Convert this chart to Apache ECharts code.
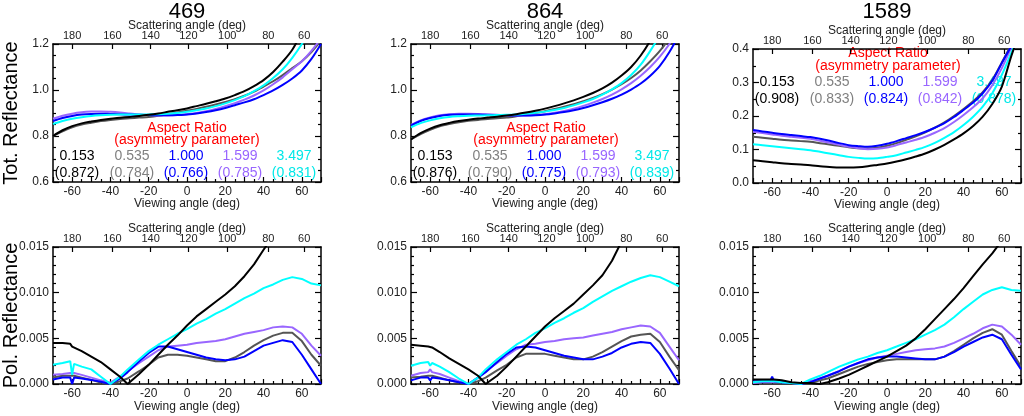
<!DOCTYPE html>
<html>
<head>
<meta charset="utf-8">
<script src="https://cdn.jsdelivr.net/npm/echarts@6/dist/echarts.min.js"></script>
<style>
  html, body { margin: 0; padding: 0; background: #fff; }
  #chart { width: 1024px; height: 416px; }
</style>
</head>
<body>
<div id="chart"></div>
<script>
// viewing angle samples (deg)
const viewTot = [-70,-65,-60,-55,-50,-45,-40,-35,-30,-25,-20,-15,-10,-5,0,5,10,15,20,25,30,35,40,45,50,55,60,65,70];
const viewPol = [-70,-65,-61,-60,-59,-55,-50,-45,-40,-35,-31,-25,-20,-15,-10,-5,0,5,10,15,20,25,30,35,40,45,50,55,60,65,70];

// top axis: scattering angle labels and where they sit on the viewing axis
const scatLabels = [180, 160, 140, 120, 100, 80, 60];
const scatPos = [-60, -39, -19, 0.7, 21, 42.5, 61.2];

const bands = ['469', '864', '1589'];
const aspectRatios = ['0.153', '0.535', '1.000', '1.599', '3.497'];
const asym469 = [0.872, 0.784, 0.766, 0.785, 0.831];
const asym864 = [0.876, 0.790, 0.775, 0.793, 0.839];
const asym1589 = [0.908, 0.833, 0.824, 0.842, 0.878];

// total reflectance, order: 0.153 (k), 0.535 (g), 1.000 (b), 1.599 (p), 3.497 (c)
const t469k = [0.800,0.825,0.843,0.855,0.863,0.870,0.875,0.879,0.883,0.887,0.892,0.898,0.905,0.912,0.920,0.930,0.940,0.951,0.963,0.978,0.995,1.017,1.043,1.078,1.123,1.175,1.250,1.330,1.420];
const t469g = [0.800,0.820,0.838,0.850,0.858,0.865,0.870,0.874,0.877,0.880,0.883,0.888,0.895,0.902,0.910,0.918,0.927,0.937,0.948,0.960,0.975,0.993,1.015,1.038,1.065,1.095,1.125,1.165,1.215];
const t469b = [0.865,0.878,0.887,0.893,0.896,0.897,0.896,0.895,0.893,0.892,0.891,0.890,0.890,0.891,0.894,0.898,0.904,0.912,0.922,0.934,0.946,0.960,0.978,0.998,1.022,1.050,1.085,1.135,1.200];
const t469p = [0.875,0.888,0.897,0.903,0.906,0.907,0.905,0.902,0.898,0.894,0.891,0.889,0.889,0.891,0.895,0.900,0.908,0.918,0.930,0.943,0.958,0.976,0.998,1.025,1.055,1.090,1.125,1.170,1.225];
const t469c = [0.852,0.865,0.875,0.882,0.887,0.890,0.892,0.893,0.893,0.893,0.894,0.895,0.897,0.900,0.905,0.912,0.920,0.930,0.942,0.956,0.973,0.995,1.020,1.052,1.090,1.140,1.200,1.270,1.350];

const t864k = [0.785,0.812,0.832,0.847,0.857,0.865,0.871,0.876,0.880,0.884,0.889,0.895,0.902,0.910,0.919,0.930,0.942,0.955,0.970,0.987,1.007,1.032,1.063,1.100,1.150,1.215,1.300,1.400,1.500];
const t864g = [0.785,0.808,0.827,0.842,0.852,0.860,0.866,0.870,0.874,0.877,0.880,0.886,0.893,0.900,0.908,0.917,0.927,0.938,0.951,0.965,0.982,1.002,1.025,1.052,1.085,1.125,1.170,1.225,1.290];
const t864b = [0.845,0.865,0.878,0.887,0.892,0.894,0.894,0.893,0.892,0.891,0.890,0.889,0.889,0.890,0.893,0.898,0.904,0.912,0.922,0.934,0.947,0.962,0.980,1.002,1.028,1.062,1.105,1.165,1.240];
const t864p = [0.848,0.868,0.881,0.890,0.895,0.897,0.897,0.896,0.894,0.892,0.890,0.889,0.889,0.891,0.895,0.901,0.909,0.919,0.931,0.945,0.961,0.980,1.003,1.030,1.062,1.100,1.145,1.200,1.265];
const t864c = [0.838,0.856,0.868,0.877,0.883,0.886,0.888,0.889,0.890,0.891,0.892,0.894,0.897,0.901,0.906,0.913,0.922,0.933,0.946,0.961,0.980,1.003,1.030,1.065,1.110,1.170,1.240,1.320,1.410];

const t1589k = [0.068,0.065,0.062,0.059,0.057,0.055,0.053,0.050,0.048,0.046,0.046,0.047,0.050,0.054,0.058,0.064,0.071,0.079,0.088,0.100,0.114,0.130,0.148,0.170,0.198,0.236,0.288,0.380,0.460];
const t1589g = [0.138,0.135,0.132,0.129,0.127,0.125,0.123,0.119,0.115,0.111,0.107,0.104,0.103,0.105,0.111,0.119,0.129,0.139,0.151,0.165,0.181,0.200,0.221,0.244,0.271,0.308,0.360,0.415,0.480];
const t1589b = [0.158,0.154,0.150,0.146,0.143,0.140,0.137,0.132,0.126,0.119,0.113,0.110,0.108,0.111,0.117,0.125,0.134,0.143,0.153,0.165,0.179,0.197,0.218,0.240,0.268,0.305,0.358,0.410,0.470];
const t1589p = [0.153,0.149,0.145,0.141,0.138,0.135,0.132,0.126,0.120,0.114,0.108,0.104,0.101,0.102,0.106,0.113,0.121,0.129,0.138,0.150,0.164,0.182,0.203,0.226,0.253,0.292,0.343,0.405,0.470];
const t1589c = [0.116,0.113,0.110,0.107,0.104,0.101,0.098,0.093,0.088,0.083,0.078,0.075,0.073,0.074,0.078,0.083,0.091,0.099,0.108,0.120,0.135,0.152,0.173,0.198,0.228,0.268,0.323,0.390,0.460];

// polarized reflectance
const p469k = [0.0045,0.0045,0.0044,0.0041,0.0043,0.0036,0.0030,0.0024,0.0016,0.0008,0.0000,0.0011,0.0021,0.0032,0.0043,0.0053,0.0064,0.0074,0.0082,0.0090,0.0098,0.0107,0.0118,0.0131,0.0147,0.0162,0.0180,0.0200,0.0220,0.0240,0.0260];
const p469g = [0.0007,0.0009,0.0009,0.0009,0.0009,0.0007,0.00045,0.00015,0.0000,0.0003,0.0006,0.0014,0.0021,0.0029,0.0032,0.0032,0.0031,0.0029,0.0027,0.0025,0.0025,0.0029,0.0035,0.0042,0.0048,0.0053,0.0056,0.0056,0.0047,0.0032,0.0020];
const p469b = [0.0005,0.0007,0.0007,0.0000,0.0007,0.0006,0.00045,0.00025,0.0000,0.0006,0.0013,0.0025,0.0034,0.0041,0.0041,0.0038,0.0035,0.0032,0.0029,0.0027,0.0026,0.0027,0.0030,0.0036,0.0042,0.0045,0.0048,0.0046,0.0032,0.0016,0.0000];
const p469p = [0.0010,0.0011,0.0012,0.0013,0.0012,0.0010,0.0007,0.0004,0.00015,0.0008,0.0014,0.0023,0.0030,0.0037,0.0041,0.0042,0.0043,0.0045,0.0046,0.0047,0.0049,0.0052,0.0055,0.0057,0.0059,0.0062,0.0063,0.0062,0.0055,0.0042,0.0031];
const p469c = [0.0021,0.0023,0.0025,0.0010,0.0022,0.0019,0.0016,0.0008,0.0000,0.0008,0.0016,0.0027,0.0036,0.0043,0.0049,0.0055,0.0060,0.0066,0.0071,0.0077,0.0082,0.0088,0.0094,0.0099,0.0105,0.0109,0.0114,0.0117,0.0115,0.0110,0.0108];

const p864k = [0.0043,0.0042,0.0041,0.0040,0.0040,0.0035,0.0028,0.0022,0.0016,0.0009,0.0000,0.0009,0.0019,0.0030,0.0041,0.0052,0.0063,0.0072,0.0080,0.0088,0.0098,0.0108,0.0119,0.0135,0.0156,0.0176,0.0196,0.0216,0.0236,0.0256,0.0276];
const p864g = [0.0007,0.0008,0.0009,0.0009,0.0009,0.0007,0.0004,0.0002,0.0000,0.0003,0.0007,0.0015,0.0021,0.0029,0.0033,0.0033,0.0033,0.0031,0.0029,0.0027,0.0027,0.0030,0.0035,0.0041,0.0047,0.0052,0.0054,0.0055,0.0046,0.0030,0.0015];
const p864b = [0.0004,0.0007,0.0007,0.0004,0.0007,0.0006,0.0004,0.0002,0.0000,0.0007,0.0013,0.0024,0.0033,0.0040,0.0041,0.0040,0.0037,0.0034,0.0031,0.0029,0.0027,0.0027,0.0030,0.0034,0.0040,0.0044,0.0046,0.0045,0.0033,0.0017,0.0000];
const p864p = [0.0009,0.0012,0.0013,0.0016,0.0013,0.0011,0.0007,0.0003,0.0000,0.0007,0.0014,0.0023,0.0031,0.0038,0.0043,0.0044,0.0046,0.0047,0.0049,0.0050,0.0051,0.0053,0.0055,0.0057,0.0060,0.0062,0.0064,0.0063,0.0056,0.0041,0.0026];
const p864c = [0.0020,0.0023,0.0024,0.0020,0.0023,0.0019,0.0013,0.0006,0.0000,0.0007,0.0016,0.0027,0.0035,0.0043,0.0049,0.0056,0.0061,0.0067,0.0072,0.0078,0.0083,0.0090,0.0096,0.0102,0.0107,0.0112,0.0116,0.0119,0.0117,0.0112,0.0107];

const p1589k = [0.0005,0.0005,0.0005,0.0005,0.0005,0.0004,0.0002,0.0001,0.0001,0.0000,0.0002,0.0006,0.0010,0.0015,0.0020,0.0025,0.0030,0.0036,0.0042,0.0050,0.0060,0.0071,0.0082,0.0093,0.0105,0.0118,0.0131,0.0143,0.0157,0.0172,0.0187];
const p1589g = [0.0002,0.0003,0.0003,0.0003,0.0003,0.0002,0.0001,0.0000,0.0001,0.0004,0.0006,0.0011,0.0015,0.0019,0.0022,0.0024,0.0026,0.0027,0.0027,0.0027,0.0027,0.0027,0.0030,0.0036,0.0043,0.0050,0.0056,0.0060,0.0054,0.0036,0.0019];
const p1589b = [0.0003,0.0003,0.0003,0.0008,0.0003,0.0002,0.0001,0.0000,0.0002,0.0006,0.0009,0.0014,0.0019,0.0023,0.0027,0.0029,0.0030,0.0030,0.0029,0.0028,0.0027,0.0027,0.0030,0.0035,0.0041,0.0046,0.0051,0.0054,0.0049,0.0032,0.0016];
const p1589p = [0.0001,0.0002,0.0002,0.0002,0.0002,0.0002,0.0001,0.0000,0.0003,0.0006,0.0009,0.0014,0.0019,0.0023,0.0026,0.0029,0.0031,0.0033,0.0035,0.0037,0.0038,0.0039,0.0041,0.0045,0.0050,0.0055,0.0061,0.0065,0.0063,0.0054,0.0043];
const p1589c = [0.0002,0.0003,0.0003,0.0003,0.0003,0.0002,0.0001,0.0000,0.0005,0.0009,0.0013,0.0019,0.0023,0.0027,0.0030,0.0034,0.0037,0.0041,0.0045,0.0049,0.0054,0.0059,0.0065,0.0073,0.0082,0.0090,0.0098,0.0103,0.0106,0.0103,0.0102];

const lineColors = ['#000000', '#555555', '#0000ff', '#9966ff', '#00ffff'];
const textColors = ['#000000', '#808080', '#0000ff', '#9966ff', '#00e8e8'];
const FONT = '"Liberation Sans", Arial, Helvetica, sans-serif';

// panels: [k, g, b, p, c] arrays per grid
const panels = [
  { x: viewTot, ys: [t469k, t469g, t469b, t469p, t469c], kind: 'tot' },
  { x: viewTot, ys: [t864k, t864g, t864b, t864p, t864c], kind: 'tot' },
  { x: viewTot, ys: [t1589k, t1589g, t1589b, t1589p, t1589c], kind: 'tot3' },
  { x: viewPol, ys: [p469k, p469g, p469b, p469p, p469c], kind: 'pol' },
  { x: viewPol, ys: [p864k, p864g, p864b, p864p, p864c], kind: 'pol' },
  { x: viewPol, ys: [p1589k, p1589g, p1589b, p1589p, p1589c], kind: 'pol' }
];

const grids = [
  { left: 53, top: 44, width: 268, height: 138 },
  { left: 411, top: 44, width: 268, height: 138 },
  { left: 753, top: 49, width: 268, height: 134 },
  { left: 53, top: 247, width: 268, height: 137 },
  { left: 411, top: 247, width: 268, height: 137 },
  { left: 753, top: 247, width: 268, height: 137 }
];

const yCfg = {
  tot:  { min: 0.6, max: 1.2, interval: 0.2, minor: 4, dec: 1 },
  tot3: { min: 0, max: 0.4, interval: 0.1, minor: 2, dec: 1 },
  pol:  { min: 0, max: 0.015, interval: 0.005, minor: 5, dec: 3 }
};

const axisLine = { onZero: false, lineStyle: { color: '#000', width: 1.5 } };
const tickStyle = { color: '#000', width: 1.2 };

const xAxes = [], yAxes = [], series = [];
panels.forEach((p, g) => {
  const bottomRow = g >= 3;
  xAxes.push({
    gridIndex: g, type: 'value', position: 'bottom', min: -70, max: 70, interval: 10,
    name: 'Viewing angle (deg)', nameLocation: 'middle', nameGap: bottomRow ? 17 : 16,
    nameMoveOverlap: false,
    nameTextStyle: { fontFamily: FONT, fontSize: 12, color: '#222' },
    axisLine, splitLine: { show: false },
    axisTick: { inside: true, length: 5, lineStyle: tickStyle },
    minorTick: { show: true, splitNumber: 2, length: 3, lineStyle: tickStyle },
    axisLabel: { margin: 4, fontFamily: FONT, fontSize: 12, color: '#222',
      formatter: v => (v % 20 === 0 ? String(v) : '') }
  });
  xAxes.push({
    gridIndex: g, type: 'value', position: 'top', min: -70, max: 70,
    name: 'Scattering angle (deg)', nameLocation: 'middle', nameGap: 12,
    nameMoveOverlap: false,
    nameTextStyle: { fontFamily: FONT, fontSize: 12, color: '#222' },
    axisLine, splitLine: { show: false },
    axisTick: { inside: true, length: 5, customValues: scatPos, lineStyle: tickStyle },
    axisLabel: { margin: 3, fontFamily: FONT, fontSize: 11, color: '#222', customValues: scatPos,
      formatter: v => {
        let best = 0;
        scatPos.forEach((s, i) => { if (Math.abs(s - v) < Math.abs(scatPos[best] - v)) best = i; });
        return String(scatLabels[best]);
      } }
  });
  const c = yCfg[p.kind];
  const yBase = {
    gridIndex: g, type: 'value', min: c.min, max: c.max, interval: c.interval,
    axisLine, splitLine: { show: false },
    axisTick: { inside: true, length: 6, lineStyle: tickStyle },
    minorTick: { show: true, splitNumber: c.minor, length: 3, lineStyle: tickStyle }
  };
  const leftY = Object.assign({}, yBase, {
    position: 'left',
    axisLabel: { margin: 4, fontFamily: FONT, fontSize: 12, color: '#222',
      formatter: v => v.toFixed(c.dec) }
  });
  if (g === 0 || g === 3) {
    Object.assign(leftY, {
      name: g === 0 ? 'Tot. Reflectance' : 'Pol. Reflectance',
      nameLocation: 'middle', nameGap: 32, nameMoveOverlap: false,
      nameTextStyle: { fontFamily: FONT, fontSize: 20, color: '#000' }
    });
  }
  yAxes.push(leftY);
  yAxes.push(Object.assign({}, yBase, { position: 'right', axisLabel: { show: false } }));

  // draw order: gray, purple, blue, cyan, black
  [1, 3, 2, 4, 0].forEach(k => {
    series.push({
      type: 'line', xAxisIndex: 2 * g, yAxisIndex: 2 * g,
      data: p.x.map((v, i) => [v, p.ys[k][i]]),
      symbol: 'none', clip: true, silent: true,
      smooth: p.kind === 'pol' ? false : 0.3,
      lineStyle: { color: lineColors[k], width: 2 }
    });
  });
});

// text annotations
function txt(x, y, text, color, size) {
  return { type: 'text', x, y, silent: true, z: 0,
    style: { text, fill: color, font: size + 'px ' + FONT,
      align: 'center', verticalAlign: 'middle', textAlign: 'center', textVerticalAlign: 'middle' } };
}
const graphic = [];
const titleX = [187, 545, 887];
bands.forEach((b, i) => graphic.push(txt(titleX[i], 12, b, '#000', 22)));

const colOffsets = [24, 79, 133, 187, 241];
const notes = [
  { g: 0, asym: asym469, redX: 187, ys: [128, 140, 156, 173] },
  { g: 1, asym: asym864, redX: 546, ys: [128, 140, 156, 173] },
  { g: 2, asym: asym1589, redX: 888, ys: [53, 66, 82, 99] }
];
notes.forEach(n => {
  graphic.push(txt(n.redX, n.ys[0], 'Aspect Ratio', '#ff0000', 14));
  graphic.push(txt(n.redX, n.ys[1], '(asymmetry parameter)', '#ff0000', 14));
  aspectRatios.forEach((a, k) => {
    const x = grids[n.g].left + colOffsets[k];
    graphic.push(txt(x, n.ys[2], a, textColors[k], 14));
    graphic.push(txt(x, n.ys[3], '(' + n.asym[k].toFixed(3) + ')', textColors[k], 14));
  });
});

const chart = echarts.init(document.getElementById('chart'), null, { renderer: 'canvas' });
chart.setOption({
  animation: false,
  backgroundColor: '#fff',
  textStyle: { fontFamily: FONT },
  grid: grids.map(g => Object.assign({ outerBoundsMode: 'none', containLabel: false }, g)),
  xAxis: xAxes,
  yAxis: yAxes,
  graphic,
  series
});
</script>
</body>
</html>
